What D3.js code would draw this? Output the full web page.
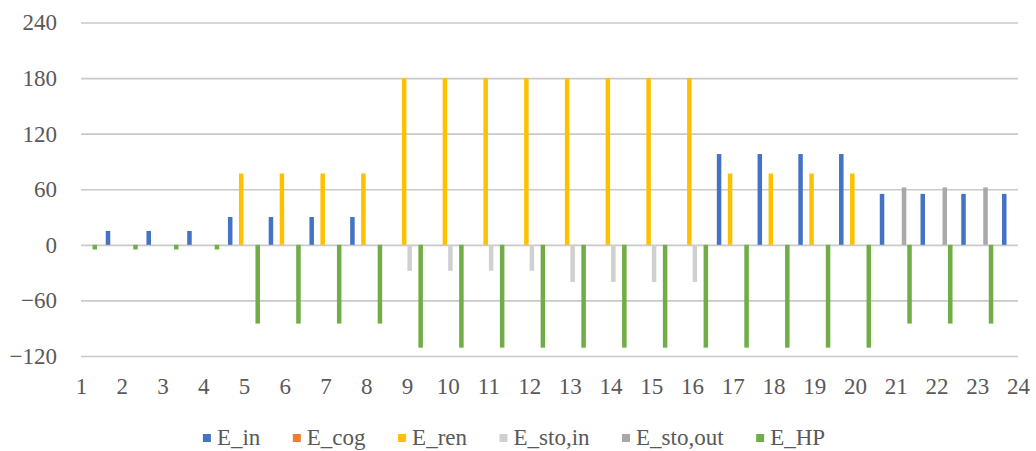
<!DOCTYPE html>
<html>
<head>
<meta charset="utf-8">
<script src="https://cdn.jsdelivr.net/npm/d3@7"></script>
<style>
  html, body { margin: 0; padding: 0; background: #fff; }
  svg { display: block; }
  svg text { font-family: "Liberation Serif", "Tinos", "Times New Roman", "Nimbus Roman", "DejaVu Serif", serif !important; fill: #595959; }
</style>
</head>
<body>
<svg id="chart" width="1036" height="451"></svg>
<script>
const hours = ["1","2","3","4","5","6","7","8","9","10","11","12","13","14","15","16","17","18","19","20","21","22","23","24"];
const seriesNames = ["E_in", "E_cog", "E_ren", "E_sto,in", "E_sto,out", "E_HP"];
const E_in     = [15,15,15,15,30,30,30,30,0,0,0,0,0,0,0,0,98,98,98,98,55,55,55,55];
const E_cog    = [0,0,0,0,0,0,0,0,0,0,0,0,0,0,0,0,0,0,0,0,0,0,0,0];
const E_ren    = [0,0,0,0,77,77,77,77,180,180,180,180,180,180,180,180,77,77,77,77,0,0,0,0];
const E_sto_in = [0,0,0,0,0,0,0,0,-28,-28,-28,-28,-40,-40,-40,-40,0,0,0,0,0,0,0,0];
const E_sto_out= [0,0,0,0,0,0,0,0,0,0,0,0,0,0,0,0,0,0,0,0,62,62,62,62];
const E_HP     = [-5,-5,-5,-5,-85,-85,-85,-85,-111,-111,-111,-111,-111,-111,-111,-111,-111,-111,-111,-111,-85,-85,-85,-85];
const yTicks = [-120,-60,0,60,120,180,240];
const colors = ["#4472C4", "#ED7D31", "#FFC000", "#D0D0D0", "#A9A9A9", "#70AD47"];

const seriesValues = [E_in, E_cog, E_ren, E_sto_in, E_sto_out, E_HP];

const svg = d3.select("#chart");
const pLeft = 81, pRight = 1018, pTop = 22.5, pBottom = 356;

const x = d3.scalePoint().domain(hours).range([pLeft, pRight]);
const y = d3.scaleLinear().domain([-120, 240]).range([pBottom, pTop]);
const step = x.step();
const inner = d3.scaleBand().domain(seriesNames).range([-step * 0.405, step * 0.405]);
const barW = inner.bandwidth() * 0.82;

// clip
svg.append("defs").append("clipPath").attr("id", "plotclip")
  .append("rect").attr("x", pLeft).attr("y", 0).attr("width", pRight - pLeft).attr("height", 451);

// gridlines
const yAxis = d3.axisLeft(y).tickValues(yTicks).tickSize(-(pRight - pLeft)).tickPadding(24);
const gy = svg.append("g").attr("transform", `translate(${pLeft},0)`).call(yAxis);
gy.attr("font-family", null);
gy.select(".domain").remove();
gy.selectAll(".tick line").attr("stroke", "#C9C9C9").attr("stroke-width", 1.6);
gy.selectAll(".tick text").attr("font-size", 23).attr("fill", "#595959").attr("x", -24);

// bars
const gBars = svg.append("g").attr("clip-path", "url(#plotclip)");
seriesNames.forEach((name, si) => {
  gBars.append("g").selectAll("rect")
    .data(seriesValues[si].map((v, i) => ({h: hours[i], v})))
    .join("rect")
    .attr("x", d => x(d.h) + inner(name) + (inner.bandwidth() - barW) / 2)
    .attr("width", barW)
    .attr("y", d => y(Math.max(0, d.v)))
    .attr("height", d => Math.abs(y(d.v) - y(0)))
    .attr("fill", colors[si]);
});

// x axis labels
const xAxis = d3.axisBottom(x).tickSize(0).tickPadding(0);
const gx = svg.append("g").attr("transform", `translate(0,${pBottom})`).call(xAxis);
gx.attr("font-family", null);
gx.select(".domain").remove();
gx.selectAll(".tick text").attr("font-size", 23).attr("fill", "#595959")
  .attr("dy", null).attr("y", 38);

// legend
const legend = svg.append("g");
const items = legend.selectAll("g").data(seriesNames).join("g");
items.append("rect").attr("width", 8).attr("height", 8).attr("y", -11)
  .attr("fill", (d, i) => colors[i]);
items.append("text").attr("x", 14).attr("y", 0).attr("font-size", 23).text(d => d);
let cx = 0;
const gap = 32;
items.each(function() {
  const w = this.getBBox().width;
  d3.select(this).attr("transform", `translate(${cx},0)`);
  cx += w + gap;
});
const total = cx - gap;
legend.attr("transform", `translate(${514 - total / 2},445)`);
</script>
</body>
</html>
